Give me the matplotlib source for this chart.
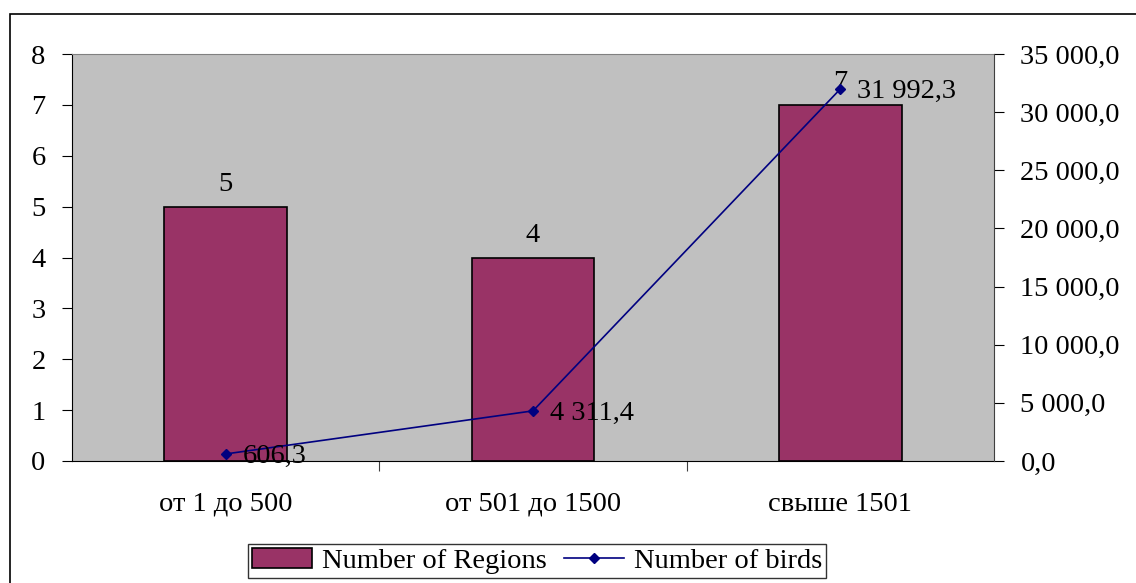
import matplotlib
matplotlib.use("Agg")
import matplotlib.pyplot as plt
from matplotlib.patches import Rectangle
from matplotlib.lines import Line2D
from matplotlib.ticker import FuncFormatter, MultipleLocator

categories = ["от 1 до 500", "от 501 до 1500", "свыше 1501"]
regions = [5, 4, 7]
birds = [606.3, 4311.4, 31992.3]

plt.rcParams["font.family"] = ["Liberation Serif", "DejaVu Serif"]
FS = 20.5

W, H = 1136, 583
fig = plt.figure(figsize=(W / 100, H / 100), dpi=100)

# outer chart frame (extends past the right and bottom edges)
fig.add_artist(Rectangle((10 / W, -0.1), 1.2, 1 - 14 / H + 0.1,
                         transform=fig.transFigure, fill=False,
                         edgecolor="black", linewidth=1.2))

ax = fig.add_axes([72 / W, 1 - 461 / H, (994 - 72) / W, (461 - 54) / H])
ax.set_facecolor("#C0C0C0")

x = list(range(len(categories)))
ax.bar(x, regions, width=0.4, color="#993366", edgecolor="black",
       linewidth=1.2, zorder=2)
for xi, v in zip(x, regions):
    ax.annotate(str(v), (xi, v), xytext=(0, 7), textcoords="offset points",
                ha="center", va="bottom", fontsize=FS)

ax.set_xlim(-0.5, 2.5)
ax.set_ylim(0, 8)
ax.yaxis.set_major_locator(MultipleLocator(1))
ax.set_xticks([0.5, 1.5])
ax.set_xticklabels([])
ax.set_xticks(x, minor=True)
ax.set_xticklabels(categories, minor=True, fontsize=FS)
ax.tick_params(axis="x", which="minor", length=0, pad=22)
ax.tick_params(axis="x", which="major", length=7, direction="out", color="#404040")
ax.tick_params(axis="y", which="major", length=7, direction="out", labelsize=FS, pad=12)
ax.spines["top"].set_color("#808080")
ax.spines["left"].set_color("black")
ax.spines["bottom"].set_color("black")
ax.spines["right"].set_visible(False)

ax2 = ax.twinx()
ax2.plot(x, birds, color="#000080", linewidth=1.2, marker="D",
         markersize=5.5, zorder=3)
for xi, v in zip(x, birds):
    lbl = f"{v:,.1f}".replace(",", " ").replace(".", ",")
    ax2.annotate(lbl, (xi, v), xytext=(12, -2), textcoords="offset points",
                 ha="left", va="center", fontsize=FS)
ax2.set_ylim(0, 35000)
ax2.yaxis.set_major_locator(MultipleLocator(5000))
ax2.yaxis.set_major_formatter(FuncFormatter(
    lambda v, p: f"{v:,.1f}".replace(",", " ").replace(".", ",")))
ax2.tick_params(axis="y", length=7, direction="out", labelsize=FS, pad=12)
for s in ["top", "left", "bottom"]:
    ax2.spines[s].set_visible(False)
ax2.spines["right"].set_color("#404040")

handles = [Rectangle((0, 0), 1, 1, facecolor="#993366", edgecolor="black", linewidth=1.2),
           Line2D([], [], color="#000080", marker="D", markersize=5, linewidth=1.2)]
leg = fig.legend(handles, ["Number of Regions", "Number of birds"],
                 loc="upper center", bbox_to_anchor=(537 / W, 1 - 544 / H),
                 ncol=2, fontsize=FS, frameon=True, fancybox=False,
                 edgecolor="black", handlelength=2.1, handletextpad=0.35,
                 columnspacing=0.6, borderpad=0.15, borderaxespad=0)
leg.get_frame().set_linewidth(1.0)

fig.savefig("out.png", dpi=100)
